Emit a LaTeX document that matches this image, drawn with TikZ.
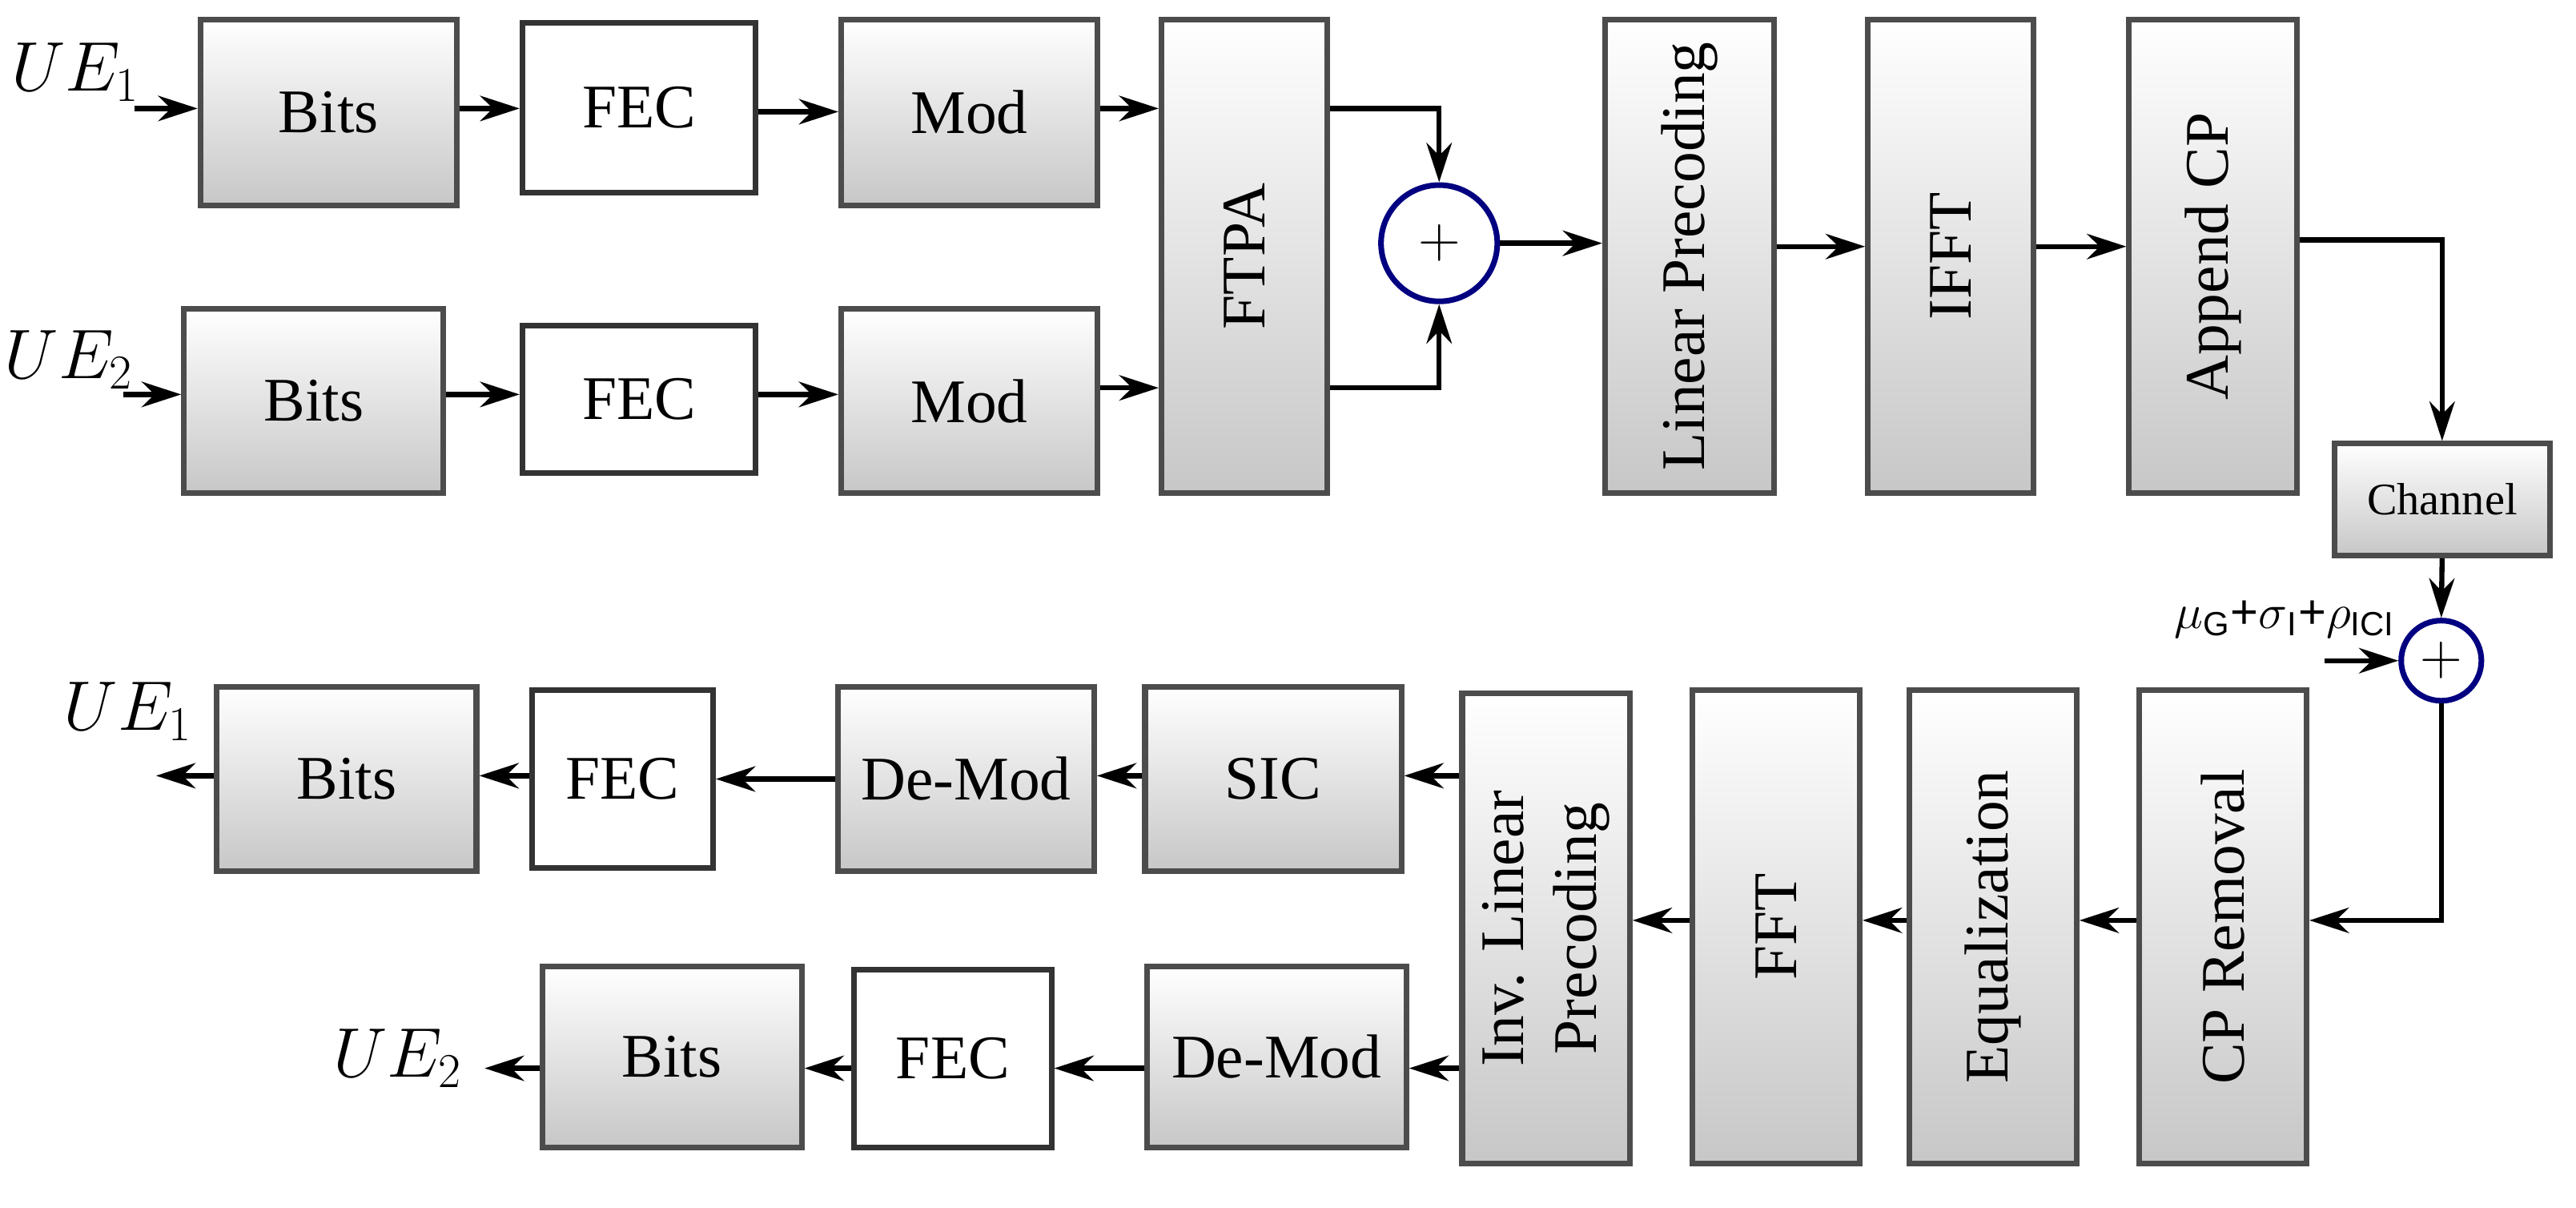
\documentclass[tikz,border=0pt]{standalone}
\usepackage{fontspec}
\setmainfont{Liberation Serif}
\newfontfamily\sansf{Liberation Sans}
\usetikzlibrary{arrows.meta}
\begin{document}
\begin{tikzpicture}[x=0.0205cm,y=-0.0205cm,
  font=\fontsize{22}{26}\selectfont,
  g/.style={draw=black!70,line width=2pt,top color=white,bottom color=black!22,inner sep=0pt},
  w/.style={draw=black!80,line width=2pt,fill=white,inner sep=0pt},
  a/.style={-{Stealth[length=14pt,width=9pt]},line width=1.8pt},
  c/.style={circle,draw=blue!50!black,line width=2pt,fill=white,inner sep=0pt}]
\useasboundingbox (0,0) rectangle (1568,735);
\def\B#1#2#3#4#5#6#7{\node[#1,minimum width={(#4-#2)*0.0205cm},minimum height={(#5-#3)*0.0205cm}] (#6) at ({(#2+#4)/2},{(#3+#5)/2}) {#7};}
\def\R#1#2#3#4#5#6#7{\node[#1,minimum width={(#4-#2)*0.0205cm},minimum height={(#5-#3)*0.0205cm},label={[rotate=90,font=\fontsize{22}{26}\selectfont,align=center]center:#7}] (#6) at ({(#2+#4)/2},{(#3+#5)/2}) {};}
\B{g}{122}{12}{278}{125}{b1}{Bits}
\B{w}{318}{14}{460}{117}{f1}{FEC}
\B{g}{512}{12}{668}{125}{m1}{Mod}
\B{g}{112}{188}{270}{300}{b2}{Bits}
\B{w}{318}{198}{460}{288}{f2}{FEC}
\B{g}{512}{188}{668}{300}{m2}{Mod}
\R{g}{707}{12}{808}{300}{ftpa}{FTPA}
\node[c,minimum size={1.45cm}] (p1) at (876,148) {\fontsize{20}{20}\selectfont$+$};
\R{g}{977}{12}{1080}{300}{lp}{Linear Precoding}
\R{g}{1137}{12}{1238}{300}{ifft}{IFFT}
\R{g}{1296}{12}{1398}{300}{acp}{Append CP}
\B{g}{1421}{270}{1552}{338}{ch}{\fontsize{16}{18}\selectfont Channel}
\node[c,minimum size={1.0cm}] (p2) at (1486,402) {\fontsize{20}{20}\selectfont$+$};
\node[anchor=south east,inner sep=1pt,font=\sansf\fontsize{17}{19}\selectfont] (nl) at (1460,390) {$\mu$\textsubscript{G}+$\sigma$\textsubscript{I}+$\rho$\textsubscript{ICI}};
\coordinate (nin) at (1415,402);
\R{g}{1302}{420}{1404}{708}{cpr}{CP Removal}
\R{g}{1162}{420}{1264}{708}{eq}{Equalization}
\R{g}{1030}{420}{1132}{708}{fft}{FFT}
\R{g}{890}{422}{992}{708}{ilp}{Inv. Linear\\Precoding}
\B{g}{697}{418}{853}{530}{sic}{SIC}
\B{g}{510}{418}{666}{530}{dm1}{De-Mod}
\B{w}{324}{420}{434}{528}{rf1}{FEC}
\B{g}{132}{418}{290}{530}{rb1}{Bits}
\B{g}{698}{588}{856}{698}{dm2}{De-Mod}
\B{w}{520}{590}{640}{698}{rf2}{FEC}
\B{g}{330}{588}{488}{698}{rb2}{Bits}
\node[font=\fontsize{23}{26}\selectfont] (u1) at (46,44) {$UE_1$};
\node[font=\fontsize{23}{26}\selectfont] (u2) at (42,219) {$UE_2$};
\node[font=\fontsize{23}{26}\selectfont] (v1) at (78,433) {$UE_1$};
\node[font=\fontsize{23}{26}\selectfont] (v2) at (242,644) {$UE_2$};
\coordinate (s1) at (82,66); \coordinate (s2) at (75,240);
\coordinate (e1) at (95,472); \coordinate (e2) at (295,650);
% TX
\draw[a] (s1) -- (s1 -| b1.west);
\draw[a] (b1.east |- 0,66) -- (f1.west |- 0,66);
\draw[a] (f1.east |- 0,68) -- (m1.west |- 0,68);
\draw[a] (m1.east |- 0,66) -- (ftpa.west |- 0,66);
\draw[a] (s2) -- (s2 -| b2.west);
\draw[a] (b2.east |- 0,240) -- (f2.west |- 0,240);
\draw[a] (f2.east |- 0,240) -- (m2.west |- 0,240);
\draw[a] (m2.east |- 0,236) -- (ftpa.west |- 0,236);
\draw[a] (ftpa.east |- 0,66) -| (p1.north);
\draw[a] (ftpa.east |- 0,236) -| (p1.south);
\draw[a] (p1.east) -- (p1.east -| lp.west);
\draw[a] (lp.east |- 0,150) -- (ifft.west |- 0,150);
\draw[a] (ifft.east |- 0,150) -- (acp.west |- 0,150);
\draw[a] (acp.east |- 0,146) -| (ch.north);
\draw[a] (ch.south) -- (p2.north);
\draw[a] (nin) -- (p2.west);
% RX
\draw[a] (p2.south) |- (cpr.east |- 0,560);
\draw[a] (cpr.west |- 0,560) -- (eq.east |- 0,560);
\draw[a] (eq.west |- 0,560) -- (fft.east |- 0,560);
\draw[a] (fft.west |- 0,560) -- (ilp.east |- 0,560);
\draw[a] (ilp.west |- 0,472) -- (sic.east |- 0,472);
\draw[a] (sic.west |- 0,472) -- (dm1.east |- 0,472);
\draw[a] (dm1.west |- 0,474) -- (rf1.east |- 0,474);
\draw[a] (rf1.west |- 0,472) -- (rb1.east |- 0,472);
\draw[a] (rb1.west |- 0,472) -- (e1);
\draw[a] (ilp.west |- 0,650) -- (dm2.east |- 0,650);
\draw[a] (dm2.west |- 0,650) -- (rf2.east |- 0,650);
\draw[a] (rf2.west |- 0,650) -- (rb2.east |- 0,650);
\draw[a] (rb2.west |- 0,650) -- (e2);
\end{tikzpicture}
\end{document}
